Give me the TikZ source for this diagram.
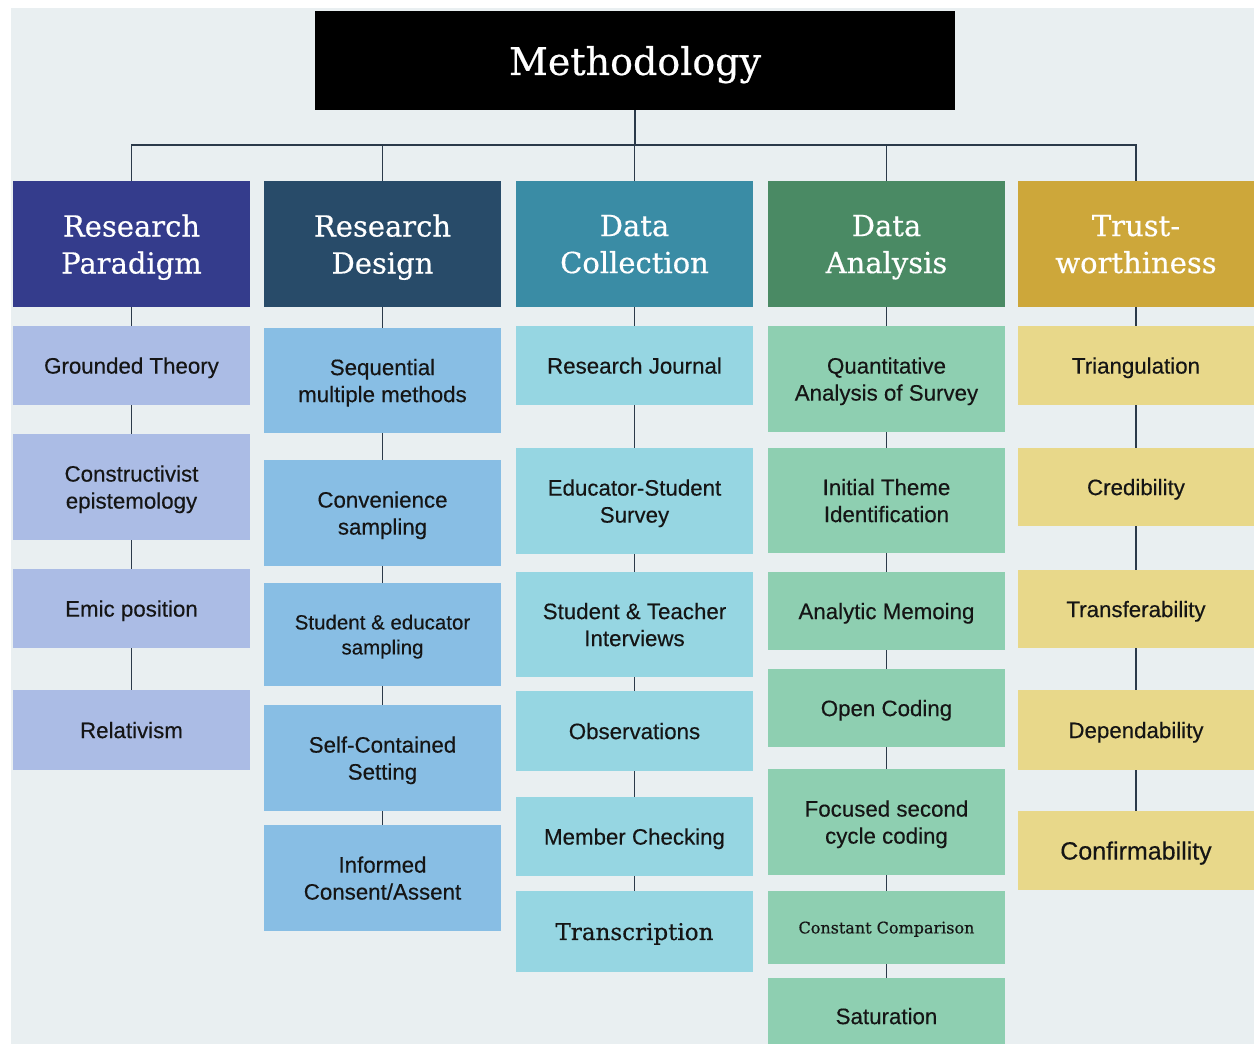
\documentclass[tikz,border=0pt]{standalone}
\usepackage{fontspec}
\setmainfont{Liberation Sans}[FakeBold=0.35]
\newfontfamily\slab{DejaVu Serif}[FakeBold=0.5]
\definecolor{bgc}{HTML}{E9EFF1}
\definecolor{linec}{HTML}{2B3A4A}
\definecolor{hpar}{HTML}{343C8C}
\definecolor{hdes}{HTML}{284B69}
\definecolor{hcol}{HTML}{3A8CA5}
\definecolor{hana}{HTML}{4A8A64}
\definecolor{htru}{HTML}{CDA73A}
\definecolor{ipar}{HTML}{ABBCE5}
\definecolor{ides}{HTML}{88BEE4}
\definecolor{icol}{HTML}{96D6E2}
\definecolor{iana}{HTML}{8ECFB1}
\definecolor{itru}{HTML}{E8D88A}
\definecolor{txt}{HTML}{151515}
\begin{document}
\begin{tikzpicture}[x=1pt,y=-1pt,
  box/.style={inner sep=0pt, outer sep=0pt, minimum width=237pt, align=center, text depth=0pt, text=txt, font=\fontsize{22.3}{27}\selectfont},
  head/.style={box, minimum height=126pt, text=white, font=\slab\fontsize{29}{37}\selectfont},
  link/.style={draw=linec, line width=1.5pt}]
\useasboundingbox (0,0) rectangle (1254,1044);
\clip (0,0) rectangle (1254,1044);
\fill[white] (0,0) rectangle (1254,1044);
\fill[bgc] (11,8) rectangle (1254,1044);

% title
\node[box, fill=black, minimum width=640pt, minimum height=99pt, text=white, font=\slab\fontsize{38}{44}\selectfont] (meth) at (635,60.5) {Methodology};

% headers
\node[head, fill=hpar] (h1) at (131.5,244) {Research\\Paradigm};
\node[head, fill=hdes] (h2) at (382.5,244) {Research\\Design};
\node[head, fill=hcol] (h3) at (634.5,244) {Data\\Collection};
\node[head, fill=hana] (h4) at (886.5,244) {Data\\Analysis};
\node[head, fill=htru, minimum width=236pt] (h5) at (1136,244) {Trust-\\worthiness};

% column 1
\node[box, fill=ipar, minimum height=79pt]  (g1) at (131.5,365.5) {Grounded Theory};
\node[box, fill=ipar, minimum height=106pt] (g2) at (131.5,487) {Constructivist\\epistemology};
\node[box, fill=ipar, minimum height=79pt]  (g3) at (131.5,608.5) {Emic position};
\node[box, fill=ipar, minimum height=80pt]  (g4) at (131.5,730) {Relativism};

% column 2
\node[box, fill=ides, minimum height=105pt] (d1) at (382.5,380.5) {Sequential\\multiple methods};
\node[box, fill=ides, minimum height=106pt] (d2) at (382.5,513) {Convenience\\sampling};
\node[box, fill=ides, minimum height=103pt, font=\fontsize{20.5}{25}\selectfont] (d3) at (382.5,634.5) {Student \& educator\\sampling};
\node[box, fill=ides, minimum height=106pt] (d4) at (382.5,758) {Self-Contained\\Setting};
\node[box, fill=ides, minimum height=106pt] (d5) at (382.5,878) {Informed\\Consent/Assent};

% column 3
\node[box, fill=icol, minimum height=79pt]  (k1) at (634.5,365.5) {Research Journal};
\node[box, fill=icol, minimum height=106pt] (k2) at (634.5,501) {Educator-Student\\Survey};
\node[box, fill=icol, minimum height=105pt] (k3) at (634.5,624.5) {Student \& Teacher\\Interviews};
\node[box, fill=icol, minimum height=80pt]  (k4) at (634.5,731) {Observations};
\node[box, fill=icol, minimum height=79pt]  (k5) at (634.5,836.5) {Member Checking};
\node[box, fill=icol, minimum height=81pt, font=\slab\fontsize{23}{28}\selectfont] (k6) at (634.5,931.5) {Transcription};

% column 4
\node[box, fill=iana, minimum height=106pt] (a1) at (886.5,379) {Quantitative\\Analysis of Survey};
\node[box, fill=iana, minimum height=105pt] (a2) at (886.5,500.5) {Initial Theme\\Identification};
\node[box, fill=iana, minimum height=78pt]  (a3) at (886.5,611) {Analytic Memoing};
\node[box, fill=iana, minimum height=78pt]  (a4) at (886.5,708) {Open Coding};
\node[box, fill=iana, minimum height=106pt] (a5) at (886.5,822) {Focused second\\cycle coding};
\node[box, fill=iana, minimum height=73pt, font=\slab\fontsize{16}{20}\selectfont] (a6) at (886.5,927.5) {Constant Comparison};
\node[box, fill=iana, minimum height=76pt]  (a7) at (886.5,1016) {Saturation};

% column 5
\node[box, fill=itru, minimum width=236pt, minimum height=79pt] (t1) at (1136,365.5) {Triangulation};
\node[box, fill=itru, minimum width=236pt, minimum height=78pt] (t2) at (1136,487) {Credibility};
\node[box, fill=itru, minimum width=236pt, minimum height=78pt] (t3) at (1136,609) {Transferability};
\node[box, fill=itru, minimum width=236pt, minimum height=80pt] (t4) at (1136,730) {Dependability};
\node[box, fill=itru, minimum width=236pt, minimum height=79pt, font=\fontsize{25}{30}\selectfont] (t5) at (1136,850.5) {Confirmability};

% bus
\coordinate (bus) at (0,145);
\draw[link] (meth.south) -- (meth.south |- bus);
\draw[link] (h1.north) -- (h1.north |- bus) -- (h5.north |- bus) -- (h5.north);
\draw[link] (h2.north) -- (h2.north |- bus);
\draw[link] (h3.north) -- (h3.north |- bus);
\draw[link] (h4.north) -- (h4.north |- bus);

% column links
\draw[link] (h1.south) -- (g1.north);
\draw[link] (g1.south) -- (g2.north);
\draw[link] (g2.south) -- (g3.north);
\draw[link] (g3.south) -- (g4.north);

\draw[link] (h2.south) -- (d1.north);
\draw[link] (d1.south) -- (d2.north);
\draw[link] (d2.south) -- (d3.north);
\draw[link] (d3.south) -- (d4.north);
\draw[link] (d4.south) -- (d5.north);

\draw[link] (h3.south) -- (k1.north);
\draw[link] (k1.south) -- (k2.north);
\draw[link] (k2.south) -- (k3.north);
\draw[link] (k3.south) -- (k4.north);
\draw[link] (k4.south) -- (k5.north);
\draw[link] (k5.south) -- (k6.north);

\draw[link] (h4.south) -- (a1.north);
\draw[link] (a1.south) -- (a2.north);
\draw[link] (a2.south) -- (a3.north);
\draw[link] (a3.south) -- (a4.north);
\draw[link] (a4.south) -- (a5.north);
\draw[link] (a5.south) -- (a6.north);
\draw[link] (a6.south) -- (a7.north);

\draw[link] (h5.south) -- (t1.north);
\draw[link] (t1.south) -- (t2.north);
\draw[link] (t2.south) -- (t3.north);
\draw[link] (t3.south) -- (t4.north);
\draw[link] (t4.south) -- (t5.north);
\end{tikzpicture}
\end{document}
